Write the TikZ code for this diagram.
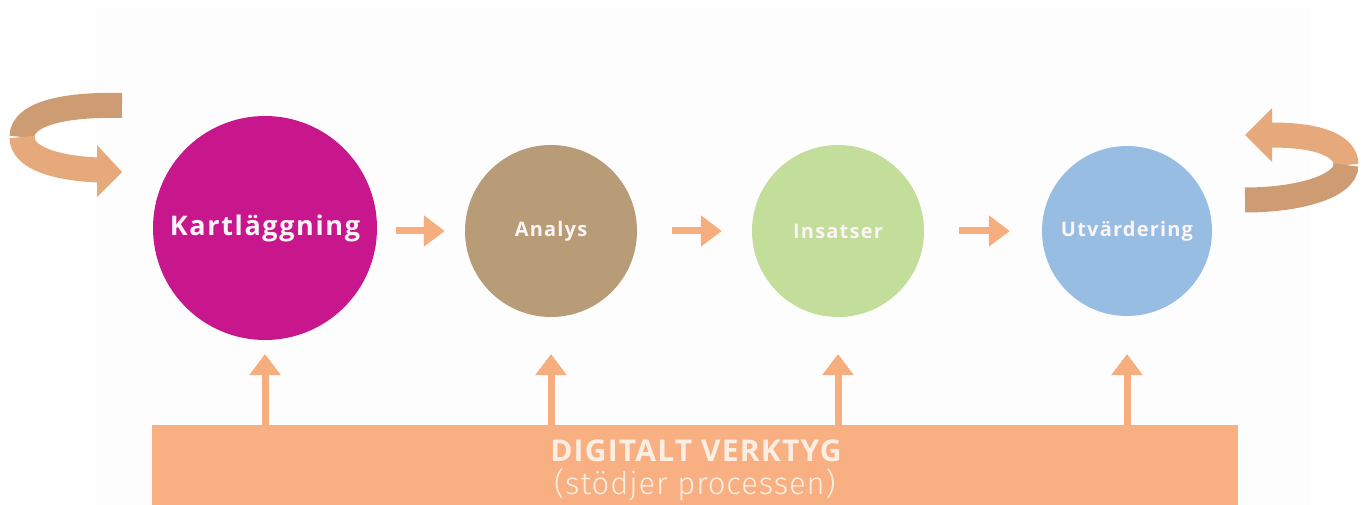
\documentclass[tikz,border=0pt]{standalone}
\usepackage{fontspec}
\setmainfont{Open Sans}
\newfontfamily\lightfont{Fira Sans Light}
\usetikzlibrary{arrows.meta,calc}
\definecolor{kart}{HTML}{C8168C}
\definecolor{anal}{HTML}{B89C77}
\definecolor{insa}{HTML}{C3DD9B}
\definecolor{utv}{HTML}{98BDE3}
\definecolor{flow}{HTML}{F6AE7E}
\definecolor{barc}{HTML}{F8B083}
\definecolor{txt}{HTML}{FCF4F7}
\definecolor{bartxt}{HTML}{FDEEE3}
\definecolor{ribdark}{HTML}{CE9C73}
\definecolor{riblight}{HTML}{E6A97B}
\definecolor{bg}{HTML}{FDFDFD}
\begin{document}
\begin{tikzpicture}[x=1pt,y=-1pt,
  stage/.style={circle,inner sep=0pt,text=txt},
  smalllabel/.style={font=\bfseries\fontsize{20}{24}\selectfont\addfontfeatures{LetterSpace=6}},
  flowarrow/.style={draw=flow,line width=7pt,-{Triangle[length=21pt 0 0,width=30pt 0 0]}},
  ribbon/.style={line width=25pt},
]
\useasboundingbox (0,0) rectangle (1368,505);
\fill[bg] (96,7) rectangle (1309,505);

% stages
\node[stage,fill=kart,minimum size=224pt,font=\bfseries\fontsize{27}{31}\selectfont\addfontfeatures{LetterSpace=6}] (k) at (265,228) {Kartläggning};
\node[stage,fill=anal,minimum size=172pt,smalllabel] (a) at (551,231) {Analys};
\node[stage,fill=insa,minimum size=172pt,smalllabel] (i) at (838,231) {Insatser};
\node[stage,fill=utv,minimum size=170pt,smalllabel] (u) at (1127,231) {Utvärdering};

% flow arrows
\draw[flowarrow,shorten <=19pt,shorten >=20pt] (k.east |- a) -- (a.west);
\draw[flowarrow,shorten <=35pt,shorten >=30pt] (a.east) -- (i.west);
\draw[flowarrow,shorten <=35pt,shorten >=32pt] (i.east) -- (u.west);

% bar
\node[fill=barc,minimum width=1086pt,minimum height=80pt,inner sep=0pt,anchor=north west] (bar) at (152,425) {};
\node[text=bartxt,font=\bfseries\fontsize{30}{34}\selectfont\addfontfeatures{LetterSpace=4}] (t1) at (696,451) {DIGITALT VERKTYG};
\node[text=bartxt,font=\lightfont\fontsize{31}{35}\selectfont\addfontfeatures{LetterSpace=3}] (t2) at (695,485) {(stödjer processen)};

% support arrows
\coordinate (tipline) at (0,354);
\draw[flowarrow] (k |- bar.north) -- (k |- tipline);
\draw[flowarrow] (a |- bar.north) -- (a |- tipline);
\draw[flowarrow] (i |- bar.north) -- (i |- tipline);
\draw[flowarrow] (u |- bar.north) -- (u |- tipline);

% left loop arrow
\draw[ribdark,ribbon] (122,105.5) .. controls (60,104) and (22,115) .. (22,137);
\draw[riblight,ribbon] (22,137) .. controls (22,158) and (55,168) .. (98,170);
\fill[riblight] (97,145) -- (122,172) -- (97,197) -- cycle;

% right loop arrow
\fill[riblight] (1272,108) -- (1245,135) -- (1272,162) -- cycle;
\draw[riblight,ribbon] (1271,135) .. controls (1320,135) and (1346,146) .. (1346,165);
\draw[ribdark,ribbon] (1346,165) .. controls (1346,186) and (1300,200) .. (1245,200);
\end{tikzpicture}
\end{document}
